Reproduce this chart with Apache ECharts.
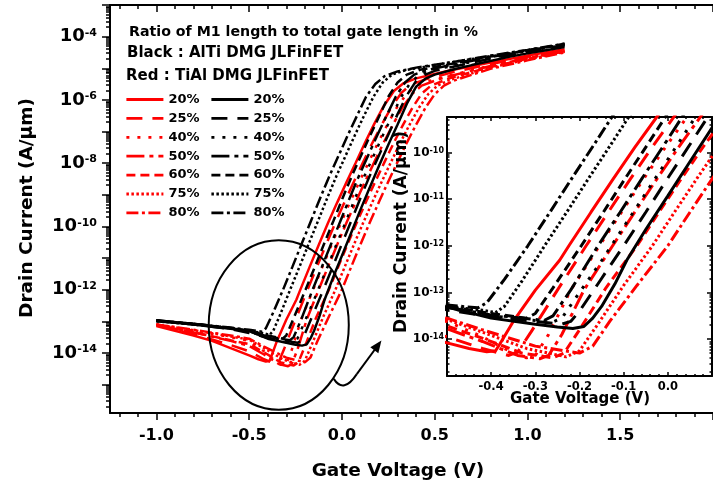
<!DOCTYPE html>
<html><head><meta charset="utf-8">
<script src="https://cdn.jsdelivr.net/npm/echarts@6/dist/echarts.min.js"></script>
<style>html,body{margin:0;padding:0;background:#fff}#c{width:713px;height:489px}</style>
</head><body><div id="c"></div>
<script>
// Curves: [gate voltage (V), log10(drain current in A/um)]
const percents = ['20%','25%','40%','50%','60%','75%','80%'];

const blk20 = [[-1.0,-13.0],[-0.9,-13.05],[-0.8,-13.1],[-0.7,-13.17],[-0.6,-13.24],[-0.5,-13.31],[-0.4,-13.55],[-0.3,-13.68],[-0.25,-13.74],[-0.215,-13.77],[-0.19,-13.73],[-0.17,-13.55],[-0.15,-13.3],[-0.12,-12.82],[-0.093,-12.31],[-0.05,-11.65],[0.0,-10.93],[0.05,-10.2],[0.1,-9.47],[0.15,-8.77],[0.2,-8.08],[0.25,-7.42],[0.3,-6.78],[0.35,-6.12],[0.4,-5.58],[0.45,-5.33],[0.5,-5.2],[0.6,-5.04],[0.7,-4.9],[0.8,-4.77],[0.9,-4.64],[1.0,-4.53],[1.1,-4.43],[1.2,-4.33]];
const blk25 = [[-1.0,-12.98],[-0.8,-13.1],[-0.6,-13.25],[-0.5,-13.37],[-0.4,-13.52],[-0.3,-13.62],[-0.24,-13.68],[-0.22,-13.62],[-0.2,-13.4],[-0.15,-12.7],[-0.1,-12.0],[-0.05,-11.28],[0.0,-10.55],[0.05,-9.83],[0.1,-9.1],[0.15,-8.4],[0.2,-7.75],[0.25,-7.1],[0.3,-6.45],[0.35,-5.85],[0.4,-5.4],[0.45,-5.2],[0.5,-5.08],[0.6,-4.95],[0.8,-4.7],[1.0,-4.48],[1.2,-4.28]];
const blk40 = [[-1.0,-12.97],[-0.8,-13.08],[-0.6,-13.22],[-0.5,-13.33],[-0.4,-13.5],[-0.3,-13.6],[-0.26,-13.63],[-0.24,-13.55],[-0.2,-13.0],[-0.15,-12.32],[-0.128,-12.0],[-0.078,-11.28],[-0.028,-10.55],[0.022,-9.83],[0.072,-9.1],[0.122,-8.4],[0.172,-7.75],[0.222,-7.1],[0.272,-6.48],[0.32,-5.9],[0.37,-5.45],[0.42,-5.2],[0.5,-5.05],[0.6,-4.92],[0.8,-4.68],[1.0,-4.46],[1.2,-4.26]];
const blk50 = [[-1.0,-12.97],[-0.8,-13.08],[-0.6,-13.22],[-0.5,-13.32],[-0.4,-13.48],[-0.3,-13.58],[-0.28,-13.6],[-0.26,-13.5],[-0.22,-12.95],[-0.158,-12.0],[-0.108,-11.28],[-0.058,-10.55],[-0.008,-9.83],[0.042,-9.1],[0.092,-8.4],[0.142,-7.75],[0.192,-7.1],[0.242,-6.48],[0.29,-5.9],[0.34,-5.45],[0.39,-5.2],[0.45,-5.07],[0.6,-4.88],[0.8,-4.65],[1.0,-4.44],[1.2,-4.24]];
const blk60 = [[-1.0,-12.97],[-0.8,-13.08],[-0.6,-13.21],[-0.5,-13.3],[-0.4,-13.45],[-0.32,-13.55],[-0.3,-13.45],[-0.26,-12.9],[-0.196,-12.0],[-0.146,-11.28],[-0.096,-10.55],[-0.046,-9.83],[0.004,-9.1],[0.054,-8.4],[0.104,-7.75],[0.154,-7.1],[0.204,-6.48],[0.25,-5.9],[0.3,-5.45],[0.35,-5.2],[0.42,-5.05],[0.6,-4.85],[0.8,-4.63],[1.0,-4.43],[1.2,-4.23]];
const blk75 = [[-1.0,-13.0],[-0.8,-13.1],[-0.6,-13.22],[-0.5,-13.3],[-0.42,-13.38],[-0.39,-13.43],[-0.37,-13.3],[-0.33,-12.75],[-0.279,-12.0],[-0.229,-11.28],[-0.179,-10.55],[-0.129,-9.83],[-0.079,-9.1],[-0.029,-8.4],[0.021,-7.75],[0.071,-7.1],[0.121,-6.48],[0.17,-5.9],[0.22,-5.45],[0.27,-5.2],[0.35,-5.05],[0.5,-4.9],[0.6,-4.8],[0.8,-4.62],[1.0,-4.44],[1.2,-4.24]];
const blk80 = [[-1.0,-12.98],[-0.8,-13.08],[-0.6,-13.2],[-0.5,-13.27],[-0.43,-13.33],[-0.41,-13.22],[-0.37,-12.72],[-0.317,-12.0],[-0.267,-11.28],[-0.217,-10.55],[-0.167,-9.83],[-0.117,-9.1],[-0.067,-8.4],[-0.017,-7.75],[0.033,-7.1],[0.083,-6.48],[0.13,-5.9],[0.18,-5.5],[0.23,-5.25],[0.3,-5.1],[0.4,-4.98],[0.6,-4.8],[0.8,-4.6],[1.0,-4.42],[1.2,-4.22]];

const red20 = [[-1.0,-13.15],[-0.9,-13.3],[-0.8,-13.45],[-0.7,-13.62],[-0.6,-13.85],[-0.5,-14.08],[-0.45,-14.2],[-0.41,-14.27],[-0.39,-14.25],[-0.38,-14.1],[-0.35,-13.62],[-0.3,-12.95],[-0.245,-12.31],[-0.224,-12.0],[-0.174,-11.28],[-0.124,-10.57],[-0.074,-9.88],[-0.025,-9.24],[0.025,-8.6],[0.075,-7.98],[0.125,-7.35],[0.175,-6.75],[0.225,-6.2],[0.28,-5.72],[0.33,-5.48],[0.4,-5.32],[0.5,-5.18],[0.6,-5.05],[0.8,-4.82],[1.0,-4.6],[1.2,-4.4]];
const red25 = [[-1.0,-13.12],[-0.8,-13.4],[-0.6,-13.75],[-0.5,-13.95],[-0.42,-14.2],[-0.36,-14.35],[-0.34,-14.28],[-0.31,-13.85],[-0.25,-12.95],[-0.185,-12.0],[-0.135,-11.28],[-0.085,-10.57],[-0.035,-9.88],[0.015,-9.22],[0.065,-8.58],[0.115,-7.96],[0.165,-7.35],[0.215,-6.78],[0.265,-6.25],[0.32,-5.78],[0.37,-5.52],[0.45,-5.35],[0.55,-5.2],[0.6,-5.12],[0.8,-4.87],[1.0,-4.64],[1.2,-4.42]];
const red40 = [[-1.0,-13.1],[-0.8,-13.3],[-0.6,-13.5],[-0.5,-13.62],[-0.42,-13.95],[-0.35,-14.3],[-0.32,-14.4],[-0.3,-14.35],[-0.27,-13.9],[-0.22,-12.95],[-0.155,-12.0],[-0.105,-11.28],[-0.055,-10.57],[-0.005,-9.88],[0.045,-9.22],[0.095,-8.58],[0.145,-7.96],[0.195,-7.35],[0.245,-6.78],[0.295,-6.25],[0.35,-5.8],[0.4,-5.55],[0.5,-5.35],[0.6,-5.2],[0.8,-4.92],[1.0,-4.67],[1.2,-4.45]];
const red50 = [[-1.0,-13.12],[-0.8,-13.35],[-0.6,-13.62],[-0.5,-13.78],[-0.42,-14.05],[-0.34,-14.35],[-0.29,-14.42],[-0.27,-14.35],[-0.24,-13.9],[-0.19,-12.95],[-0.125,-12.0],[-0.075,-11.28],[-0.025,-10.57],[0.025,-9.88],[0.075,-9.22],[0.125,-8.58],[0.175,-7.96],[0.225,-7.35],[0.275,-6.78],[0.325,-6.25],[0.38,-5.8],[0.43,-5.55],[0.52,-5.35],[0.6,-5.22],[0.8,-4.93],[1.0,-4.68],[1.2,-4.45]];
const red60 = [[-1.0,-13.12],[-0.8,-13.35],[-0.6,-13.6],[-0.5,-13.72],[-0.42,-13.98],[-0.33,-14.3],[-0.26,-14.4],[-0.235,-14.3],[-0.2,-13.8],[-0.14,-12.9],[-0.07,-12.0],[-0.02,-11.28],[0.03,-10.57],[0.08,-9.88],[0.13,-9.22],[0.18,-8.58],[0.23,-7.96],[0.28,-7.35],[0.33,-6.78],[0.38,-6.25],[0.43,-5.8],[0.48,-5.55],[0.56,-5.36],[0.6,-5.28],[0.8,-4.96],[1.0,-4.7],[1.2,-4.46]];
const red75 = [[-1.0,-13.1],[-0.8,-13.28],[-0.6,-13.48],[-0.5,-13.58],[-0.42,-13.85],[-0.32,-14.2],[-0.23,-14.38],[-0.2,-14.25],[-0.16,-13.7],[-0.1,-12.85],[-0.035,-12.0],[0.015,-11.28],[0.065,-10.57],[0.115,-9.88],[0.165,-9.22],[0.215,-8.58],[0.265,-7.96],[0.315,-7.35],[0.365,-6.78],[0.415,-6.25],[0.465,-5.82],[0.515,-5.55],[0.58,-5.37],[0.65,-5.25],[0.8,-4.98],[1.0,-4.72],[1.2,-4.48]];
const red80 = [[-1.0,-13.1],[-0.8,-13.27],[-0.6,-13.45],[-0.5,-13.55],[-0.42,-13.8],[-0.3,-14.15],[-0.2,-14.3],[-0.17,-14.15],[-0.13,-13.6],[-0.07,-12.85],[0.0,-12.0],[0.05,-11.28],[0.1,-10.57],[0.15,-9.88],[0.2,-9.22],[0.25,-8.58],[0.3,-7.96],[0.35,-7.35],[0.4,-6.78],[0.45,-6.25],[0.5,-5.82],[0.55,-5.55],[0.6,-5.4],[0.65,-5.3],[0.8,-5.02],[1.0,-4.75],[1.2,-4.5]];

const blackCurves = [blk20, blk25, blk40, blk50, blk60, blk75, blk80];
const redCurves = [red20, red25, red40, red50, red60, red75, red80];

// Tick labels
const xMainLabels = [-1.0, -0.5, 0.0, 0.5, 1.0, 1.5];
const yMainLabels = [-14, -12, -10, -8, -6, -4];
const xInsetLabels = [-0.4, -0.3, -0.2, -0.1, 0.0];
const yInsetLabels = [-14, -13, -12, -11, -10];

const FONT = 'DejaVu Sans';
const dash = {
  '20%': 'solid',
  '25%': [16, 10],
  '40%': [3, 8],
  '50%': [18, 5, 4, 5],
  '60%': [9, 5],
  '75%': [2.5, 2.5],
  '80%': [12, 3.5, 3, 3.5]
};

function range(a, b, step) { const r = []; for (let v = a; v <= b + 1e-9; v += step) r.push(Math.round(v * 1000) / 1000); return r; }
function logMinor(lo, hi) { const r = []; for (let n = Math.floor(lo); n < hi; n++) for (let k = 2; k <= 9; k++) { const v = n + Math.log10(k); if (v > lo && v < hi) r.push(v); } return r; }

const MX = [-1.25, 2.0], MY = [-15.9, -3];
const IX = [-0.5, 0.1], IY = [-14.79, -9.24];

const axLine = { show: true, onZero: false, lineStyle: { color: '#000', width: 2 } };
const noLine = { show: false, onZero: false };
const tickSt = { color: '#000', width: 1.5 };
const supRich = (b, s) => ({ b: { fontSize: b, fontWeight: 'bold', fontFamily: FONT, color: '#000', verticalAlign: 'bottom' }, s: { fontSize: s, fontWeight: 'bold', fontFamily: FONT, color: '#000', verticalAlign: 'top' } });

function ax(grid, mm, pos, line, ticks, len, inside, labels) {
  return {
    type: 'value', gridIndex: grid, min: mm[0], max: mm[1], position: pos,
    axisLine: line ? axLine : noLine,
    axisTick: { show: true, customValues: ticks, length: len, inside: inside, lineStyle: tickSt },
    axisLabel: labels ? labels : { show: false },
    splitLine: { show: false }
  };
}

const xAxis = [
  ax(0, MX, 'bottom', true, [-1, -0.5, 0, 0.5, 1, 1.5, 2], 7, false,
    { show: true, customValues: xMainLabels, formatter: v => v.toFixed(1), fontSize: 16, fontWeight: 'bold', fontFamily: FONT, color: '#000', margin: 15 }),
  ax(0, MX, 'bottom', false, range(-1.2, 1.9, 0.1), 4, false),
  ax(0, MX, 'top', true, [-1, -0.5, 0, 0.5, 1, 1.5, 2], 7, true),
  ax(0, MX, 'top', false, range(-1.2, 1.9, 0.1), 4, true),
  ax(1, IX, 'bottom', true, range(-0.5, 0.1, 0.1), 4, true,
    { show: true, customValues: xInsetLabels, formatter: v => v.toFixed(1), fontSize: 11.5, fontWeight: 'bold', fontFamily: FONT, color: '#000', margin: 5 }),
  ax(1, IX, 'bottom', false, range(-0.48, 0.08, 0.02), 2, true),
  ax(1, IX, 'top', true, range(-0.5, 0.1, 0.1), 4, true),
  ax(1, IX, 'top', false, range(-0.48, 0.08, 0.02), 2, true)
];
const yAxis = [
  ax(0, MY, 'left', true, range(-15, -3, 1), 8, false,
    { show: true, customValues: yMainLabels, formatter: v => '{b|10}{s|' + v + '}', rich: supRich(18, 11), margin: 13 }),
  ax(0, MY, 'left', false, logMinor(MY[0], MY[1]), 4, false),
  ax(1, IY, 'left', true, range(-14, -10, 1), 5, true,
    { show: true, customValues: yInsetLabels, formatter: v => '{b|10}{s|' + v + '}', rich: supRich(12, 8), margin: 3 }),
  ax(1, IY, 'left', false, logMinor(IY[0], IY[1]), 2.5, true),
  ax(1, IY, 'right', true, range(-14, -10, 1), 5, true),
  ax(1, IY, 'right', false, logMinor(IY[0], IY[1]), 2.5, true)
];

const series = [];
function addSeries(prefix, color, curves, xi, yi, width) {
  curves.forEach((c, i) => {
    series.push({
      name: prefix + ' ' + percents[i], type: 'line', xAxisIndex: xi, yAxisIndex: yi,
      data: c, showSymbol: false, symbol: 'circle', symbolSize: 0, clip: true, smooth: false,
      lineStyle: { color: color, width: width, type: dash[percents[i]] },
      itemStyle: { color: color, opacity: 0 }
    });
  });
}
addSeries('TiAl', '#ff0000', redCurves, 0, 0, 2.5);
addSeries('AlTi', '#000000', blackCurves, 0, 0, 2.5);
addSeries('TiAl', '#ff0000', redCurves, 4, 2, 3);
addSeries('AlTi', '#000000', blackCurves, 4, 2, 3);

const legendBase = {
  orient: 'vertical', top: 93, padding: 0, itemWidth: 37, itemHeight: 14, itemGap: 5.9, itemTextGap: -3,
  selectedMode: false, formatter: n => n.split(' ')[1],
  itemStyle: { opacity: 0, borderWidth: 0 },
  lineStyle: { width: 2.8 },
  textStyle: { fontFamily: FONT, fontWeight: 'bold', fontSize: 13, color: '#000' }
};

const textEl = (id, text, x, y, size, align, rot) => ({
  type: 'text', id: id, x: x, y: y, rotation: rot || 0, z: 10,
  style: { text: text, fill: '#000', font: 'bold ' + size + 'px "' + FONT + '"', textAlign: align, textVerticalAlign: 'middle', align: align, verticalAlign: 'middle' }
});

const option = {
  animation: false,
  backgroundColor: '#fff',
  grid: [
    { left: 110, top: 5, width: 611, height: 408 },
    { left: 447, top: 117, width: 265, height: 259, show: true, backgroundColor: '#fff', borderWidth: 0 }
  ],
  xAxis: xAxis,
  yAxis: yAxis,
  legend: [
    Object.assign({}, legendBase, { left: 125, data: percents.map(p => 'TiAl ' + p) }),
    Object.assign({}, legendBase, { left: 210, data: percents.map(p => 'AlTi ' + p) })
  ],
  series: series,
  graphic: [
    textEl('t1', 'Ratio of M1 length to total gate length in %', 129, 32, 14.2, 'left'),
    textEl('t2', 'Black : AlTi DMG JLFinFET', 127, 53, 15, 'left'),
    textEl('t3', 'Red : TiAl DMG JLFinFET', 126, 76, 15, 'left'),
    textEl('xt', 'Gate Voltage (V)', 398, 471, 18.5, 'center'),
    textEl('yt', 'Drain Current (A/\u03bcm)', 27, 208, 18.5, 'center', Math.PI / 2),
    textEl('ixt', 'Gate Voltage (V)', 580, 399, 15, 'center'),
    textEl('iyt', 'Drain Current (A/\u03bcm)', 402, 232, 17, 'center', Math.PI / 2)
  ]
};

const chart = echarts.init(document.getElementById('c'), null, { renderer: 'canvas' });
chart.setOption(option);

// Annotation ellipse and arrow anchored to data coordinates of the main plot
const ellipseBox = { left: -0.718, right: 0.037, top: -10.44, bottom: -15.8 };
const arrowPts = { start: [-0.044, -14.82], ctrl: [0.009, -15.3], mid: [0.08, -14.67], tip: [0.213, -13.61] };
const px = p => chart.convertToPixel({ xAxisIndex: 0, yAxisIndex: 0 }, p);
const tl = px([ellipseBox.left, ellipseBox.top]), br = px([ellipseBox.right, ellipseBox.bottom]);
const s = px(arrowPts.start), c = px(arrowPts.ctrl), m = px(arrowPts.mid), t = px(arrowPts.tip);
const dx = t[0] - m[0], dy = t[1] - m[1], L = Math.hypot(dx, dy), ux = dx / L, uy = dy / L;
const head = [[t[0], t[1]], [t[0] - ux * 12 - uy * 5, t[1] - uy * 12 + ux * 5], [t[0] - ux * 12 + uy * 5, t[1] - uy * 12 - ux * 5]];
chart.setOption({
  graphic: [
    { type: 'ellipse', id: 'ell', z: 9, shape: { cx: (tl[0] + br[0]) / 2, cy: (tl[1] + br[1]) / 2, rx: (br[0] - tl[0]) / 2, ry: (br[1] - tl[1]) / 2 }, style: { fill: 'none', stroke: '#000', lineWidth: 2 } },
    { type: 'bezierCurve', id: 'arc', z: 9, shape: { x1: s[0], y1: s[1], cpx1: c[0], cpy1: c[1], x2: m[0], y2: m[1] }, style: { fill: 'none', stroke: '#000', lineWidth: 2 } },
    { type: 'line', id: 'aline', z: 9, shape: { x1: m[0], y1: m[1], x2: t[0] - ux * 8, y2: t[1] - uy * 8 }, style: { stroke: '#000', lineWidth: 2 } },
    { type: 'polygon', id: 'ahead', z: 9, shape: { points: head }, style: { fill: '#000' } }
  ]
});
</script></body></html>
